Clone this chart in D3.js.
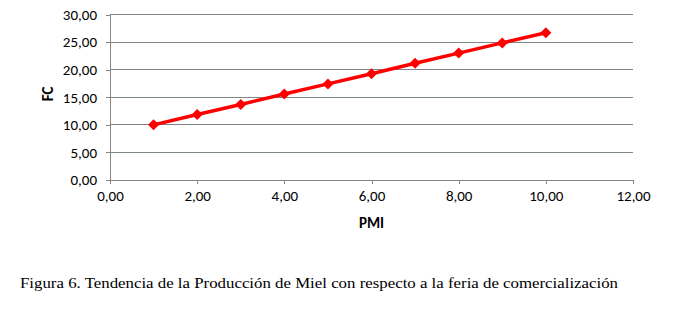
<!DOCTYPE html>
<html><head><meta charset="utf-8">
<script src="https://cdn.jsdelivr.net/npm/d3@7"></script>
<style>html,body{margin:0;padding:0;background:#fff;}svg{display:block;}</style>
</head><body>
<svg id="c" width="684" height="310"></svg>
<script>
const pmi = [1, 2, 3, 4, 5, 6, 7, 8, 9, 10];
const fc = [10.0, 11.87, 13.7, 15.6, 17.42, 19.25, 21.15, 23.0, 24.85, 26.7];
const xTicks = [0, 2, 4, 6, 8, 10, 12];
const yTicks = [0, 5, 10, 15, 20, 25, 30];
const xTitle = "PMI", yTitle = "FC";
const caption = "Figura 6. Tendencia de la Producción de Miel con respecto a la feria de comercialización";

const svg = d3.select("#c");
const L = 110, R = 633, T = 14.5, B = 180;
const x = d3.scaleLinear().domain([0, 12]).range([L, R]);
const y = d3.scaleLinear().domain([0, 30]).range([B, T]);
const fmt = d => d.toFixed(2).replace(".", ",");
const font = "Carlito, 'Open Sans', 'DejaVu Sans', sans-serif";
const fs = "15px";

// gridlines
svg.append("g").selectAll("line").data(yTicks.filter(d => d > 0)).join("line")
  .attr("x1", L).attr("x2", R).attr("y1", d => y(d)).attr("y2", d => y(d))
  .attr("stroke", (d, i) => i % 2 === 0 ? "#7d8a84" : "#877f88").attr("stroke-width", 1)
  .attr("shape-rendering", "crispEdges");

const gx = svg.append("g").attr("transform", `translate(0,${B})`)
  .call(d3.axisBottom(x).tickValues(xTicks).tickFormat(fmt).tickSize(4).tickPadding(6));
const gy = svg.append("g").attr("transform", `translate(${L},0)`)
  .call(d3.axisLeft(y).tickValues(yTicks).tickFormat(fmt).tickSize(4).tickPadding(9));
[gx, gy].forEach(g => {
  g.selectAll("path,line").attr("stroke", "#868686").attr("shape-rendering", "crispEdges");
  g.selectAll("text").attr("font-family", font).attr("font-size", fs).attr("fill", "#000");
});
gx.selectAll("text").attr("dy", "0.72em");

// line
svg.append("path").datum(pmi.map((p, i) => [p, fc[i]]))
  .attr("fill", "none").attr("stroke", "#ff0000").attr("stroke-width", 3.5)
  .attr("stroke-linejoin", "round")
  .attr("d", d3.line().x(d => x(d[0])).y(d => y(d[1])));
svg.append("g").selectAll("path").data(pmi.map((p, i) => [p, fc[i]])).join("path")
  .attr("transform", d => `translate(${x(d[0])},${y(d[1])})`)
  .attr("d", "M0,-5.5L5.5,0L0,5.5L-5.5,0Z").attr("fill", "#ff0000");

// titles
svg.append("text").attr("x", (L + R) / 2).attr("y", 228).attr("text-anchor", "middle")
  .attr("font-family", font).attr("font-weight", "bold").attr("font-size", fs).text(xTitle);
svg.append("text").attr("transform", "translate(53,94) rotate(-90)").attr("text-anchor", "middle")
  .attr("font-family", font).attr("font-weight", "bold").attr("font-size", fs).text(yTitle);

const cap = svg.append("text").attr("x", 20).attr("y", 288)
  .attr("font-family", "'Liberation Serif', 'Times New Roman', serif").attr("font-size", "14.5px")
  .attr("fill", "#000").text(caption);
const w = cap.node().getComputedTextLength();
if (w > 0) cap.attr("textLength", 598).attr("lengthAdjust", "spacingAndGlyphs");
</script>
</body></html>
